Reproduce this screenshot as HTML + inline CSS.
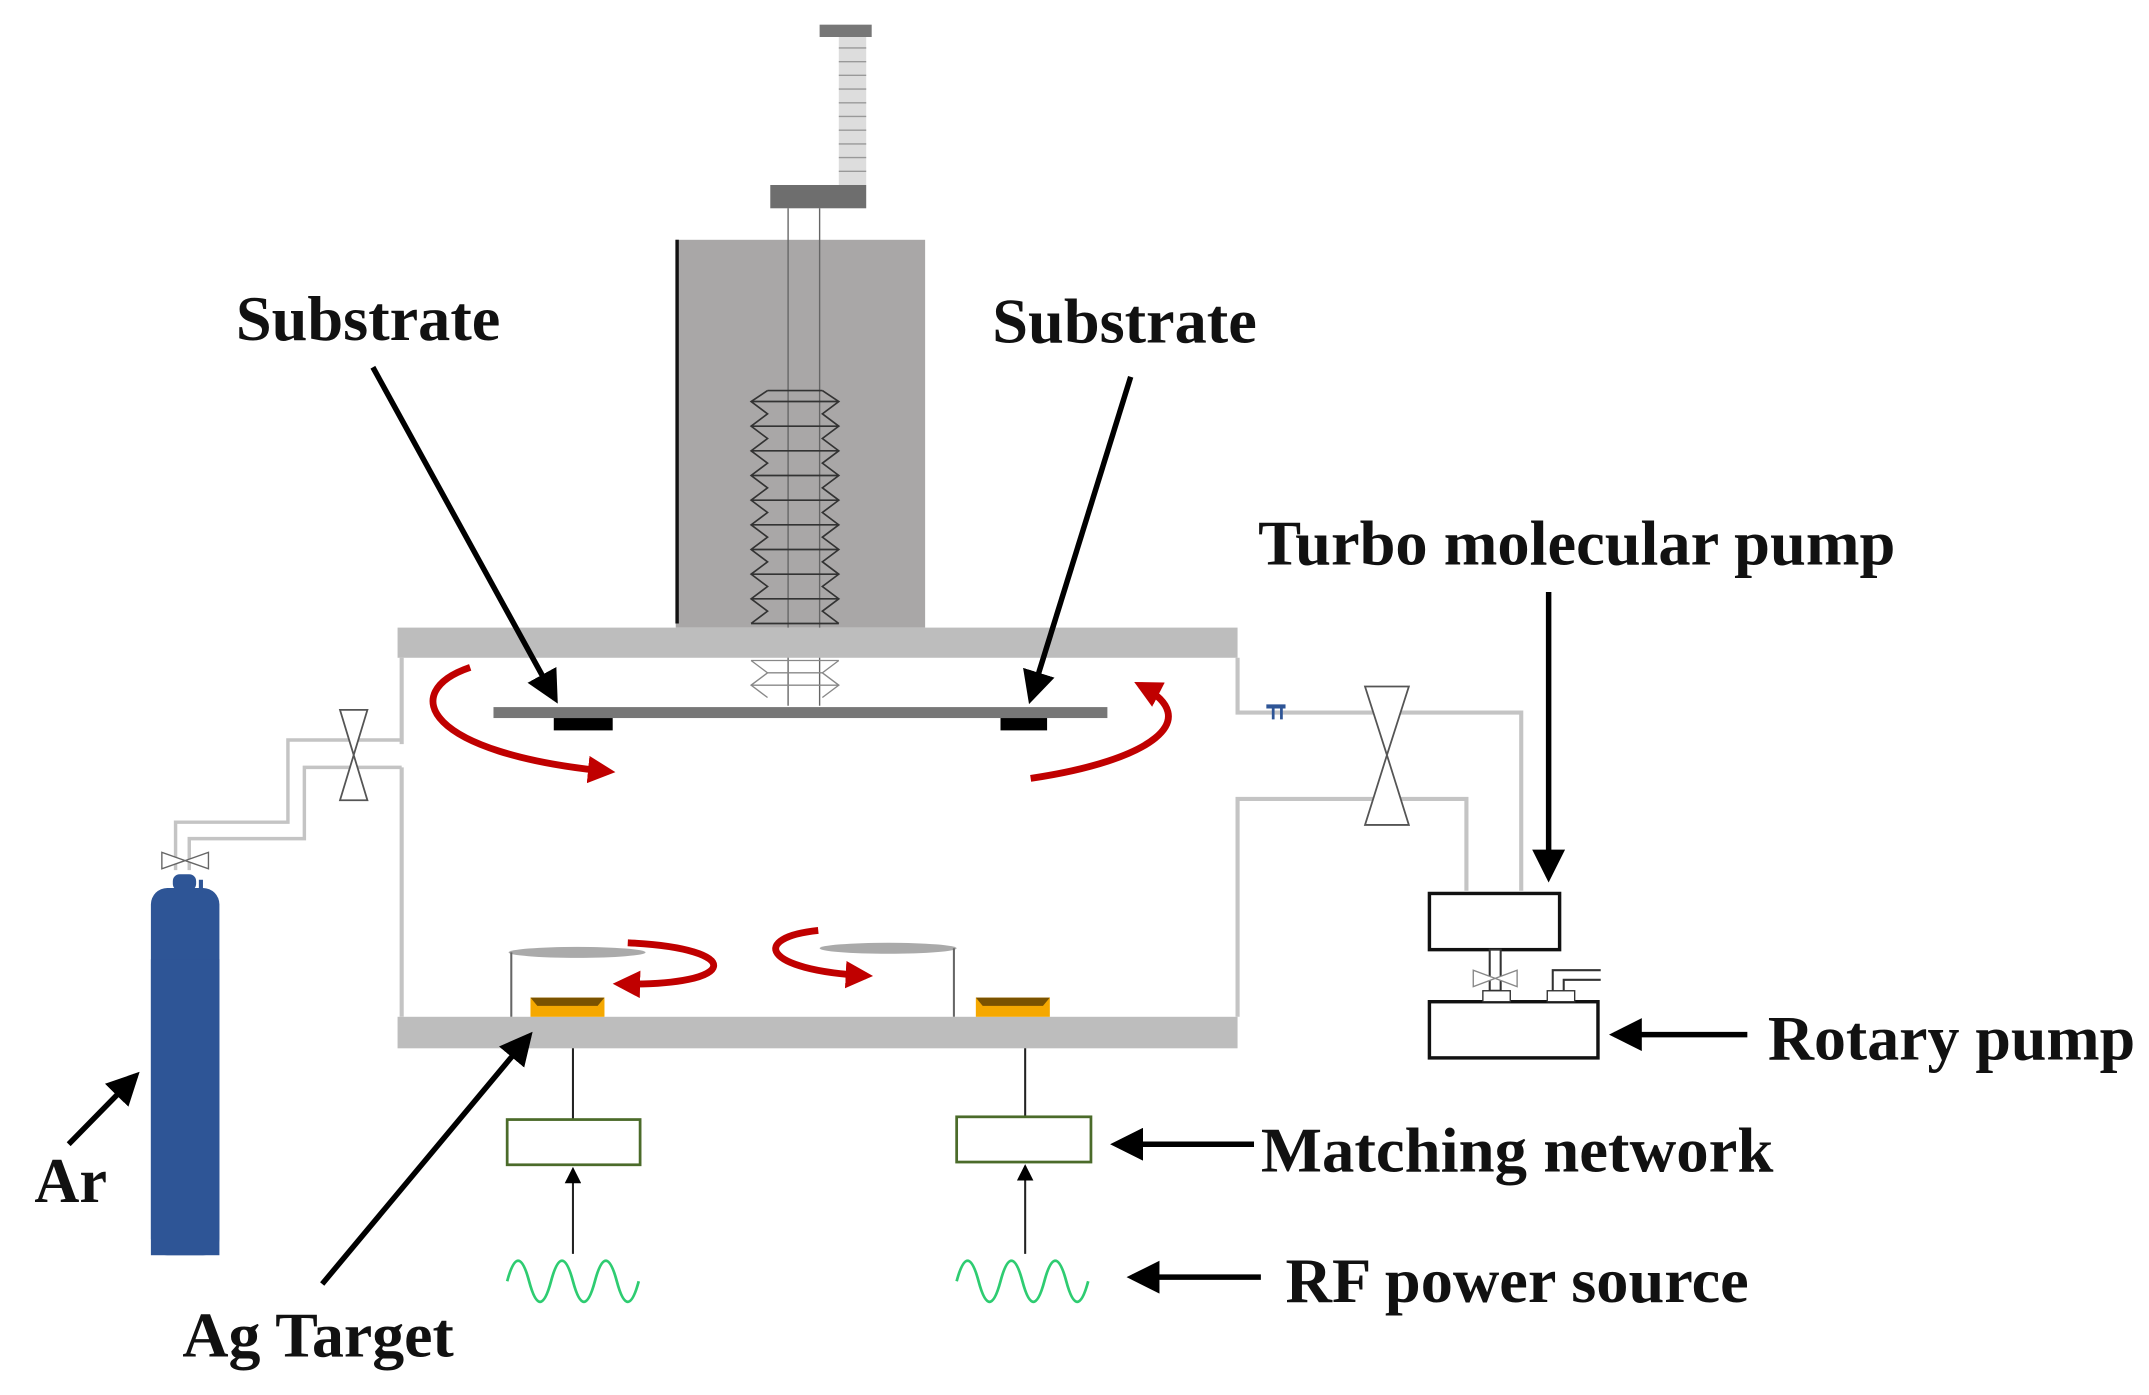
<!DOCTYPE html>
<html><head><meta charset="utf-8"><style>html,body{margin:0;padding:0;background:#fff}svg{display:block}text{font-family:"Liberation Serif",serif;font-weight:bold;fill:#111}</style></head>
<body>
<svg width="2149" height="1395" viewBox="0 0 1568 1018" xmlns="http://www.w3.org/2000/svg">
<defs>
<marker id="ah" markerWidth="6" markerHeight="6" refX="5" refY="3" orient="auto" markerUnits="strokeWidth"><path d="M0,0 L6,3 L0,6 Z" fill="#000"/></marker>
<marker id="ahs" markerWidth="8" markerHeight="8" refX="7" refY="4" orient="auto" markerUnits="strokeWidth"><path d="M0,0 L8,4 L0,8 Z" fill="#000"/></marker>
<marker id="rh" markerWidth="4" markerHeight="4" refX="3" refY="2" orient="auto" markerUnits="strokeWidth"><path d="M0,0 L4,2 L0,4 Z" fill="#c00000"/></marker>
</defs>
<rect x="598" y="18" width="38" height="9" fill="#777"/>
<rect x="612" y="27" width="20" height="108" fill="#ddd"/>
<g stroke="#999" stroke-width="1">
<line x1="612" y1="35" x2="632" y2="35"/><line x1="612" y1="45" x2="632" y2="45"/><line x1="612" y1="55" x2="632" y2="55"/><line x1="612" y1="65" x2="632" y2="65"/><line x1="612" y1="75" x2="632" y2="75"/><line x1="612" y1="85" x2="632" y2="85"/><line x1="612" y1="95" x2="632" y2="95"/><line x1="612" y1="105" x2="632" y2="105"/><line x1="612" y1="115" x2="632" y2="115"/><line x1="612" y1="125" x2="632" y2="125"/>
</g>
<rect x="562" y="135" width="70" height="17" fill="#6e6e6e"/>
<rect x="493" y="175" width="182" height="283" fill="#a9a7a7"/>
<line x1="494" y1="175" x2="494" y2="455" stroke="#111" stroke-width="2.5"/>
<line x1="575" y1="152" x2="575" y2="515" stroke="#666" stroke-width="1"/>
<line x1="598" y1="152" x2="598" y2="515" stroke="#666" stroke-width="1"/>
<g fill="none" stroke="#333" stroke-width="1.2">
<polyline points="560,285 548,293 560,302 548,311 560,320 548,329 560,338 548,347 560,356 548,365 560,374 548,383 560,392 548,401 560,410 548,419 560,428 548,437 560,446 548,455"/>
<polyline points="600,285 612,293 600,302 612,311 600,320 612,329 600,338 612,347 600,356 612,365 600,374 612,383 600,392 612,401 600,410 612,419 600,428 612,437 600,446 612,455"/>
<line x1="560" y1="285" x2="600" y2="285"/><line x1="548" y1="293" x2="612" y2="293"/><line x1="548" y1="311" x2="612" y2="311"/><line x1="548" y1="329" x2="612" y2="329"/><line x1="548" y1="347" x2="612" y2="347"/><line x1="548" y1="365" x2="612" y2="365"/><line x1="548" y1="383" x2="612" y2="383"/><line x1="548" y1="401" x2="612" y2="401"/><line x1="548" y1="419" x2="612" y2="419"/><line x1="548" y1="437" x2="612" y2="437"/><line x1="548" y1="455" x2="612" y2="455"/>
</g>
<g fill="none" stroke="#888" stroke-width="1">
<polyline points="548,482 560,491 548,500 560,509"/><polyline points="612,482 600,491 612,500 600,509"/>
<line x1="548" y1="482" x2="612" y2="482"/><line x1="548" y1="500" x2="612" y2="500"/><line x1="560" y1="491" x2="600" y2="491"/>
</g>
<rect x="290" y="458" width="613" height="22" fill="#bdbdbd"/>
<rect x="290" y="742" width="613" height="23" fill="#bdbdbd"/>
<g stroke="#c4c4c4" stroke-width="3" fill="none">
<line x1="293" y1="480" x2="293" y2="543"/><line x1="293" y1="560" x2="293" y2="742"/>
<polyline points="903,480 903,520 1110,520 1110,650"/>
<polyline points="903,742 903,583 1070,583 1070,650"/>
</g>
<path d="M996,501 L1028,501 L1012,551 Z M996,602 L1028,602 L1012,551 Z" fill="#fff" stroke="#555" stroke-width="1.3"/>
<path d="M924,514 h14 v3 h-2 v8 h-2 v-8 h-4 v8 h-2 v-8 h-4z" fill="#2e5596"/>
<rect x="360" y="516" width="448" height="8" fill="#777"/>
<rect x="404" y="524" width="43" height="9" fill="#000"/>
<rect x="730" y="524" width="34" height="9" fill="#000"/>
<ellipse cx="421" cy="695" rx="50" ry="4" fill="#aaa"/>
<ellipse cx="648" cy="692" rx="50" ry="4" fill="#aaa"/>
<line x1="373" y1="695" x2="373" y2="742" stroke="#666" stroke-width="1.5"/>
<line x1="696" y1="692" x2="696" y2="742" stroke="#666" stroke-width="1.5"/>
<rect x="387" y="728" width="54" height="14" fill="#f5a800"/><path d="M387,728 h54 l-5,6 h-44z" fill="#7a5200"/>
<rect x="712" y="728" width="54" height="14" fill="#f5a800"/><path d="M712,728 h54 l-5,6 h-44z" fill="#7a5200"/>
<g fill="none" stroke="#c00000" stroke-width="5" marker-end="url(#rh)">
<path d="M343,487 C290,505 310,550 444,563"/>
<path d="M752,568 C840,555 880,525 832,500"/>
<path d="M458,688 C545,692 540,720 452,718"/>
<path d="M597,679 C548,684 555,708 632,712"/>
</g>
<line x1="418" y1="765" x2="418" y2="817" stroke="#222" stroke-width="1.5"/>
<line x1="748" y1="765" x2="748" y2="815" stroke="#222" stroke-width="1.5"/>
<rect x="370" y="817" width="97" height="33" fill="#fff" stroke="#4b6b2a" stroke-width="2"/>
<rect x="698" y="815" width="98" height="33" fill="#fff" stroke="#4b6b2a" stroke-width="2"/>
<line x1="418" y1="915" x2="418" y2="853" stroke="#222" stroke-width="1.5" marker-end="url(#ahs)"/>
<line x1="748" y1="915" x2="748" y2="851" stroke="#222" stroke-width="1.5" marker-end="url(#ahs)"/>
<g fill="none" stroke="#2ecc71" stroke-width="2">
<path d="M370,935 Q378,905 386,935 T402,935 T418,935 T434,935 T450,935 T466,935"/>
<path d="M698,935 Q706,905 714,935 T730,935 T746,935 T762,935 T778,935 T794,935"/>
</g>
<g stroke="#c4c4c4" stroke-width="2.5" fill="none">
<polyline points="128,635 128,600 210,600 210,540 293,540"/>
<polyline points="138,635 138,612 222,612 222,560 293,560"/>
</g>
<path d="M248,518 L268,518 L258,551 Z M248,584 L268,584 L258,551 Z" fill="#fff" stroke="#555" stroke-width="1.3"/>
<path d="M118,622 L118,634 L135,628 Z M152,622 L152,634 L135,628 Z" fill="#fff" stroke="#666"/>
<rect x="126" y="638" width="17" height="12" rx="5" fill="#2e5596"/>
<rect x="145" y="642" width="3" height="10" fill="#2e5596"/>
<rect x="110" y="648" width="50" height="268" rx="12" fill="#2e5596"/>
<rect x="110" y="700" width="50" height="216" fill="#2e5596"/>
<rect x="1043" y="652" width="95" height="41" fill="#fff" stroke="#111" stroke-width="2.5"/>
<rect x="1043" y="731" width="123" height="41" fill="#fff" stroke="#111" stroke-width="2.5"/>
<rect x="1087" y="693" width="8" height="30" fill="#fff" stroke="#333" stroke-width="1.5"/>
<path d="M1075,708 L1075,720 L1091,714 Z M1107,708 L1107,720 L1091,714 Z" fill="#fff" stroke="#888"/>
<rect x="1082" y="723" width="20" height="8" fill="#fff" stroke="#333"/>
<rect x="1129" y="723" width="20" height="8" fill="#fff" stroke="#333"/>
<polyline points="1133,723 1133,708 1168,708" fill="none" stroke="#333" stroke-width="1.5"/>
<polyline points="1141,723 1141,715 1168,715" fill="none" stroke="#333" stroke-width="1.5"/>
<g stroke="#000" stroke-width="4" marker-end="url(#ah)">
<line x1="272" y1="268" x2="405" y2="510"/>
<line x1="825" y1="275" x2="752" y2="510"/>
<line x1="1130" y1="432" x2="1130" y2="640"/>
<line x1="1275" y1="755" x2="1178" y2="755"/>
<line x1="915" y1="835" x2="814" y2="835"/>
<line x1="920" y1="932" x2="826" y2="932"/>
<line x1="235" y1="937" x2="386" y2="756"/>
<line x1="50" y1="835" x2="99" y2="785"/>
</g>
<text x="172" y="248" font-size="46" textLength="193" lengthAdjust="spacingAndGlyphs">Substrate</text>
<text x="724" y="250" font-size="46" textLength="193" lengthAdjust="spacingAndGlyphs">Substrate</text>
<text x="918" y="412" font-size="46" textLength="465" lengthAdjust="spacingAndGlyphs">Turbo molecular pump</text>
<text x="1290" y="773" font-size="46" textLength="268" lengthAdjust="spacingAndGlyphs">Rotary pump</text>
<text x="920" y="855" font-size="46" textLength="374" lengthAdjust="spacingAndGlyphs">Matching network</text>
<text x="938" y="950" font-size="46" textLength="338" lengthAdjust="spacingAndGlyphs">RF power source</text>
<text x="133" y="990" font-size="46" textLength="198" lengthAdjust="spacingAndGlyphs">Ag Target</text>
<text x="25" y="877" font-size="46" textLength="53" lengthAdjust="spacingAndGlyphs">Ar</text>
</svg>
</body></html>
